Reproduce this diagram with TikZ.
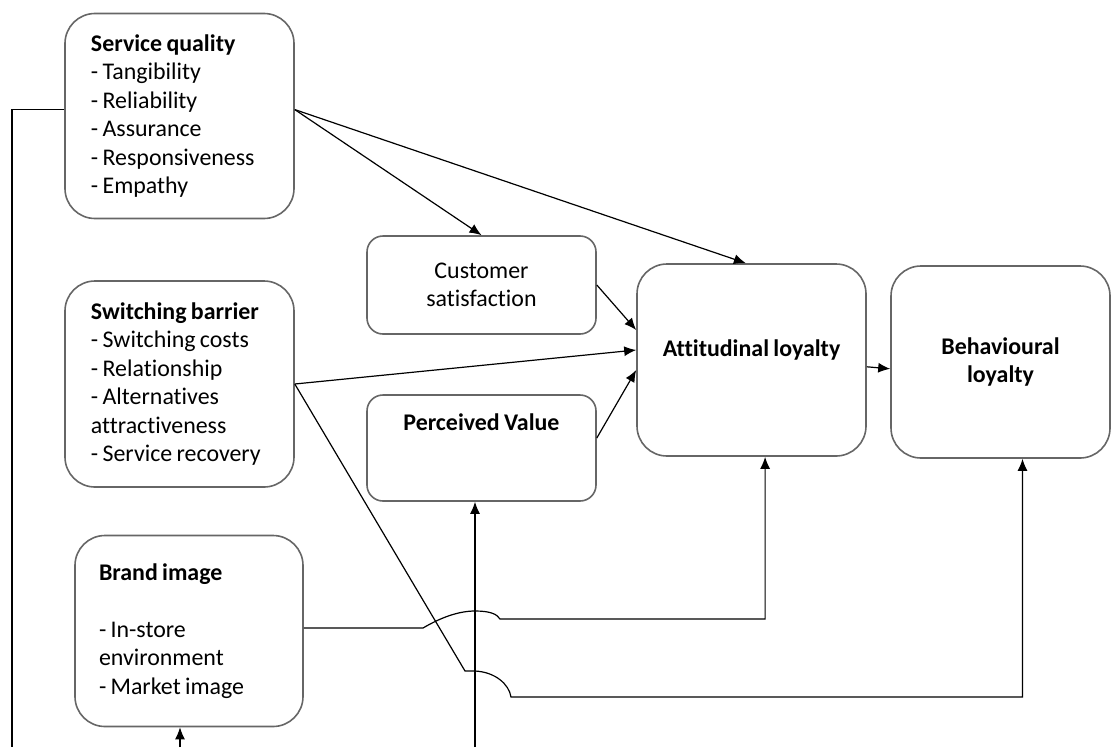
\documentclass[tikz,border=0pt]{standalone}
\usepackage{fontspec}
\setmainfont{Carlito}[Ligatures=NoCommon, WordSpace=0.8]
\usetikzlibrary{arrows.meta}

\begin{document}
\begin{tikzpicture}[x=0.25mm, y=-0.25mm, every node/.style={font=\fontsize{17}{20.3}\selectfont},
    bigbox/.style={draw=black!60, line width=0.4mm, rounded corners=7.5mm, minimum width=57.25mm, inner sep=0pt},
    listbox/.style={bigbox, align=flush left, inner xsep=6.5mm, text width=44.25mm},
    smallbox/.style={draw=black!60, line width=0.4mm, rounded corners=4mm, minimum width=57.25mm, align=center},
    link/.style={line width=0.3mm},
    arr/.style={link, -{Latex[length=3mm,width=2.5mm]}}]
                \useasboundingbox (0,0) rectangle (1112,747);

                % drivers on the left
                \node[listbox, minimum height=51.25mm] (sq) at (179.5,116) {\textbf{Service quality}\\- Tangibility\\- Reliability\\- Assurance\\- Responsiveness\\- Empathy};
                \node[listbox, minimum height=51.5mm] (sb) at (179.5,384) {\textbf{Switching barrier}\\- Switching costs\\- Relationship\\- Alternatives\\attractiveness\\- Service recovery};
                \node[listbox, minimum width=57mm, minimum height=47.75mm, inner xsep=6mm, text width=45mm] (bi) at (189,631) {\textbf{Brand image}\\[20.3pt]- In-store\\environment\\- Market image};

                % mediators
                \node[smallbox, minimum height=24.5mm] (cs) at (481.5,285) {Customer\\satisfaction};
                \node[smallbox, minimum height=26.5mm, text depth=13mm] (pv) at (481.5,448) {\textbf{Perceived Value}};

                % loyalty
                \node[bigbox, minimum height=48mm, text depth=6mm] (al) at (751.5,360) {\textbf{Attitudinal loyalty}};
                \node[bigbox, minimum width=54.75mm, minimum height=48mm, align=center] (bl) at (1000.5,362) {\textbf{Behavioural}\\\textbf{loyalty}};

                % free ends at the border
                \coordinate (sqout) at (12,747);
                \coordinate (pvin) at (475,747);
                \coordinate (biin) at (180,747);
                \coordinate (sbbend) at (465,671);
                \coordinate (sbjump) at (475,671);
                \coordinate (sbland) at (511,697);
                \coordinate (bibend) at (423,628);
                \coordinate (bitop) at (475,611);
                \coordinate (biland) at (500,619);

                \draw[arr] ([yshift=1.6mm]sq.east) -- (cs.north);
                \draw[arr] ([yshift=1.6mm]sq.east) -- ([xshift=-1.4mm]al.north);
                \draw[link] ([yshift=1.6mm]sq.west) -| (sqout);

                \draw[arr] (cs.east) -- ([yshift=7.5mm]al.west);
                \draw[arr] (sb.east) -- ([yshift=2.5mm]al.west);
                \draw[arr] ([yshift=2.5mm]pv.east) -- ([yshift=-2.5mm]al.west);
                \draw[arr] ([yshift=-1.7mm]al.east) -- ([yshift=-1.7mm]bl.west);

                \draw[arr] (sb.east) -- (sbbend) -- (sbjump) .. controls (495,672) and (509,684) .. (sbland) -| ([xshift=5.5mm]bl.south);
                \draw[arr] (bi.east |- bibend) -- (bibend) .. controls (440,618) and (458,611) .. (bitop) .. controls (490,611) and (497,614) .. (biland) -| ([xshift=3.4mm]al.south);

                \draw[arr] (pvin) -- (pvin |- pv.south);
                \draw[arr] (biin) -- (biin |- bi.south);
\end{tikzpicture}
\end{document}
